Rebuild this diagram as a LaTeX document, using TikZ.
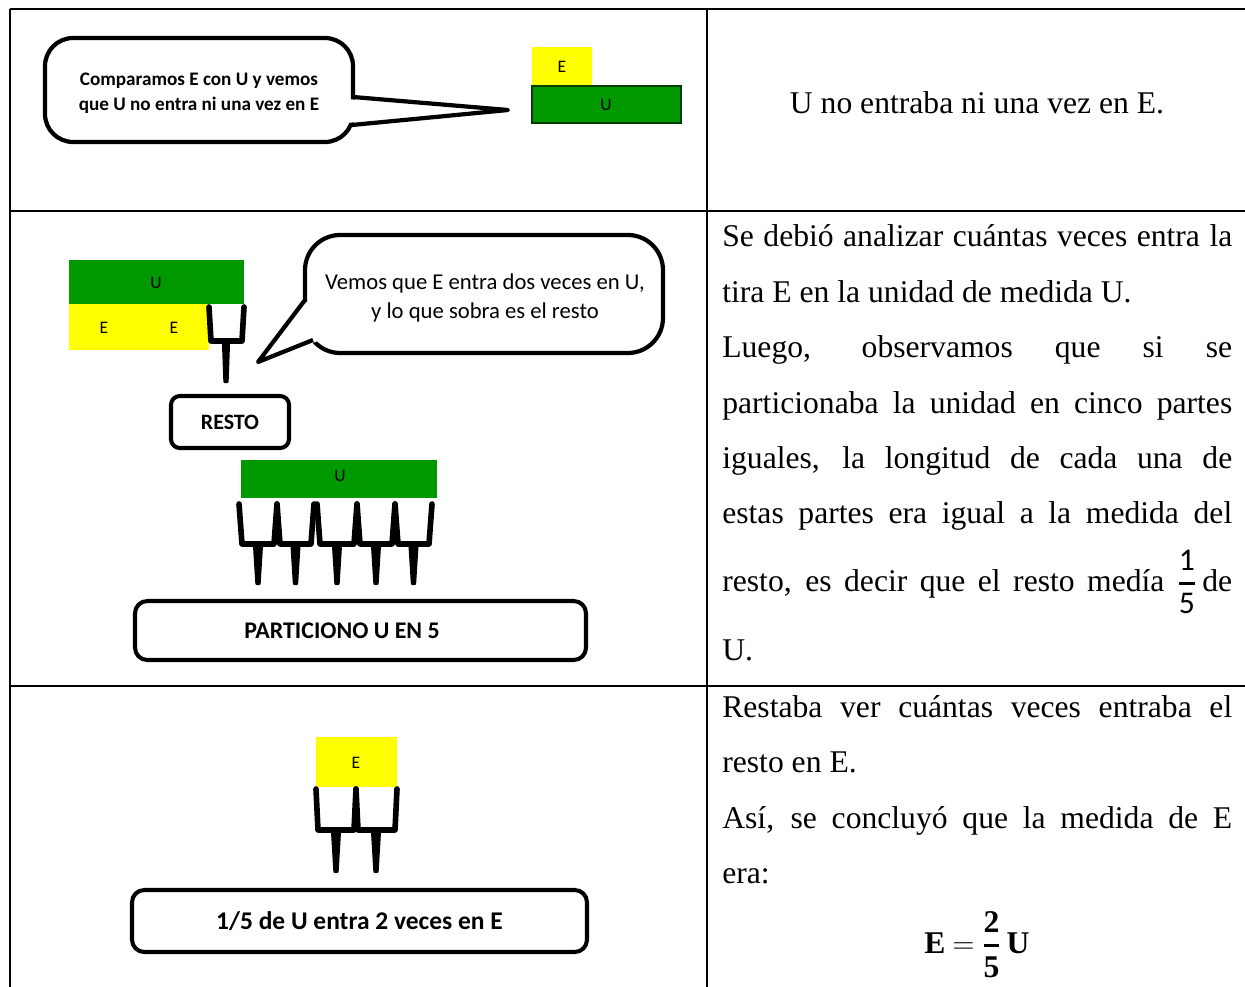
\documentclass[tikz,border=0pt]{standalone}
\usepackage{fontspec}
\setmainfont{Liberation Serif}
\newfontfamily\calfont{Carlito}
\definecolor{ugreen}{RGB}{0,153,0}
\definecolor{eyellow}{RGB}{255,255,0}
\newcommand\bodysize{\fontsize{18}{22}\selectfont}
\newcommand\jline[1]{\makebox[10.2cm][s]{#1}}
\begin{document}
\begin{tikzpicture}[x=0.02cm,y=-0.02cm,
  grid/.style={line width=1.2pt},
  body/.style={anchor=base west,inner sep=0pt,font=\bodysize},
  lbl/.style={inner sep=0pt,font=\calfont\fontsize{10}{11}\selectfont},
  bubbleline/.style={line width=2.4pt,line join=round},
  tagbox/.style={draw,line width=2.3pt,rounded corners=5pt,fill=white},
  fork/.style={line width=3.2pt,line join=round,line cap=round},
  stem/.style={fill=black,draw=black,line width=1.3pt,line join=round}]
\useasboundingbox (0,0) rectangle (1245,987);

% ---- table grid ----
\draw[grid] (10,9) -- (1245,9);
\draw[grid] (10,211) -- (1245,211);
\draw[grid] (10,686) -- (1245,686);
\draw[grid] (10,9) -- (10,987);
\draw[grid] (707,9) -- (707,987);

% ---- row 1: speech bubble and strips ----
\draw[bubbleline,fill=white,rounded corners=16pt] (45,38) rectangle (353,142);
\fill[white] (346,99) -- (508,110) -- (346,123) -- cycle;
\draw[bubbleline] (353,97) -- (508,110) -- (352,125);
\node[inner sep=0pt,font=\calfont\bfseries\fontsize{10.9}{13}\selectfont,align=center] (say1) at (199,93)
  {Comparamos E con U y vemos\\[1pt]que U no entra ni una vez en E};

\fill[eyellow] (532,47) rectangle (592,86);
\node[lbl] (e1) at (562,67) {E};
\filldraw[fill=ugreen,draw=black!60!ugreen,line width=1pt] (532,86) rectangle (681,123);
\node[lbl] (u1) at (606,105) {U};

\node[body,anchor=base] (t1) at (977,113) {U no entraba ni una vez en E.};

% ---- row 2: E fits twice in U ----
\fill[ugreen] (69,260) rectangle (244,304);
\node[lbl] (u2) at (156,283) {U};
\fill[eyellow] (69,304) rectangle (209,350);
\node[lbl] (e2a) at (104,328) {E};
\node[lbl] (e2b) at (174,328) {E};
\draw[fork] (209,307) -- (211,341) -- (242,341) -- (244,307);
\draw[stem] (223,341) -- (229,341) -- (227.5,382) -- (224.5,382) -- cycle;
\node[tagbox,minimum width=118*0.02cm,minimum height=52*0.02cm,
  font=\calfont\bfseries\fontsize{12.5}{13}\selectfont] (resto) at (230,422) {RESTO};

\draw[bubbleline,fill=white,rounded corners=20pt] (305,235) rectangle (663,353);
\fill[white] (258,362) -- (299,302) -- (312,302) -- (322,322) -- (318,341) -- cycle;
\draw[bubbleline] (305,300) -- (258,362) -- (313,340);
\node[inner sep=0pt,font=\calfont\fontsize{12.9}{15.5}\selectfont,align=center] (say2) at (485,298)
  {Vemos que E entra dos veces en U,\\[1pt]y lo que sobra es el resto};

% U split into five parts
\fill[ugreen] (241,460) rectangle (437,498);
\node[lbl] (u3) at (340,476) {U};
\foreach \a/\b in {239/277,277/314,317/357,357/395,395/432}{
  \draw[fork] (\a,504) -- (\a+3,544) -- (\b-3,544) -- (\b,504);
  \pgfmathsetmacro\m{(\a+\b)/2}
  \draw[stem] (\m-4,544) -- (\m+4,544) -- (\m+1.5,584) -- (\m-1.5,584) -- cycle;
}
\node[tagbox,minimum width=451*0.02cm,minimum height=59*0.02cm,rounded corners=7pt,
  font=\calfont\bfseries\fontsize{13.6}{15}\selectfont] (part) at (360.5,630.5) {\hspace*{-21pt}PARTICIONO U EN 5};

% right column, row 2
\node[body] (l1) at (722,246) {\jline{Se debió analizar cuántas veces entra la}};
\node[body] (l2) at (722,302) {tira E en la unidad de medida U.};
\node[body] (l3) at (722,357) {\jline{Luego, observamos que si se}};
\node[body] (l4) at (722,413) {\jline{particionaba la unidad en cinco partes}};
\node[body] (l5) at (722,468) {\jline{iguales, la longitud de cada una de}};
\node[body] (l6) at (722,523) {\jline{estas partes era igual a la medida del}};
\node[body] (l7) at (722,591) {\jline{resto, es decir que el resto medía
  $\displaystyle{\hbox{\calfont 1}\above 1.6pt\hbox{\calfont 5}}$\hspace{3pt}de}};
\node[body] (l8) at (722,660) {U.};

% ---- row 3: the remainder fits twice in E ----
\fill[eyellow] (316,737) rectangle (397,787);
\node[lbl] (e3) at (356,763) {E};
\draw[fork] (316,789) -- (318,830) -- (354,830) -- (356,789);
\draw[fork] (356,789) -- (358,830) -- (395,830) -- (397,789);
\foreach \m in {336,376}{
  \draw[stem] (\m-4,830) -- (\m+4,830) -- (\m+1.5,872) -- (\m-1.5,872) -- cycle;
}
\node[tagbox,minimum width=455*0.02cm,minimum height=62*0.02cm,rounded corners=7pt,
  font=\calfont\bfseries\fontsize{14.5}{16}\selectfont] (fifth) at (359.5,921) {1/5 de U entra 2 veces en E};

\node[body] (m1) at (722,717) {\jline{Restaba ver cuántas veces entraba el}};
\node[body] (m2) at (722,772) {resto en E.};
\node[body] (m3) at (722,828) {\jline{Así, se concluyó que la medida de E}};
\node[body] (m4) at (722,883) {era:};
\node[body,anchor=base] (res) at (977,953)
  {\bfseries E\hspace{4pt}$=$\hspace{4pt}$\displaystyle{\hbox{\bfseries 2}\above 1.8pt\hbox{\bfseries 5}}$\hspace{3pt}U};
\end{tikzpicture}
\end{document}
